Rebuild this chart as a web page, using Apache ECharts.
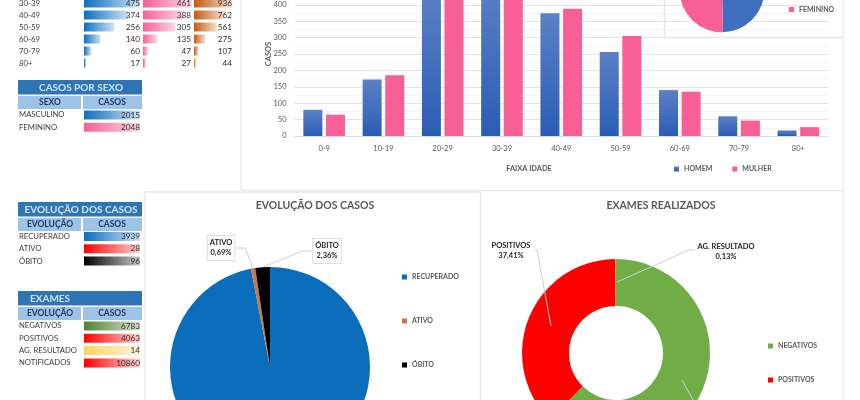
<!DOCTYPE html>
<html><head><meta charset="utf-8">
<style>html,body{margin:0;padding:0;background:#fff}#c{width:860px;height:400px}</style>
<script src="https://cdn.jsdelivr.net/npm/echarts@6/dist/echarts.min.js"></script>
</head><body><div id="c"></div>
<script>
// --- data ---
const ageGroups = ['0-9','10-19','20-29','30-39','40-49','50-59','60-69','70-79','80+'];
const men   = [80,172,441,475,374,256,140,60,17];
const women = [65,185,435,461,388,305,135,47,27];
const ageRows  = ['30-39','40-49','50-59','60-69','70-79','80+'];
const ageMen   = [475,374,256,140,60,17];
const ageWomen = [461,388,305,135,47,27];
const ageTotal = [936,762,561,275,107,44];
const sexNames  = ['MASCULINO','FEMININO'];
const sexValues = [2015,2048];
const evoNames  = ['RECUPERADO','ATIVO','ÓBITO'];
const evoValues = [3939,28,96];
const examNames  = ['NEGATIVOS','POSITIVOS','AG. RESULTADO'];
const examValues = [6783,4063,14];
const notifiedName = 'NOTIFICADOS';
const notifiedValue = 10860;

// --- styles ---
const FONT = 'Lato, "Open Sans", sans-serif';
const grad = (a,b)=>new echarts.graphic.LinearGradient(0,0,1,0,[{offset:0,color:a},{offset:1,color:b}]);
const BLUE=['#0B6FC0','#CFE2F3'],PINK=['#F85F97','#FBD8E5'],ORANGE=['#C55A11','#F7E0CF'],RED=['#FF0000','#FFD2D2'],BLACK=['#000000','#C8C8C8'],GREEN=['#4E8136','#D8E5CF'],YEL=['#FFD45E','#FFF3D6'];

const grids=[],xAxes=[],yAxes=[],series=[],graphics=[];
function text(x,y,t,o={}){graphics.push({type:'text',x,y,z:20,silent:true,style:{text:t,font:(o.bold?'bold ':'')+(o.size||8)+'px '+FONT,fill:o.fill||'#404040',textAlign:o.align||'left',textVerticalAlign:'middle'}});}
function rect(x,y,w,h,fill){graphics.push({type:'rect',silent:true,shape:{x,y,width:w,height:h},style:{fill}});}
function line(x1,y1,x2,y2,c){graphics.push({type:'line',silent:true,shape:{x1,y1,x2,y2},style:{stroke:c||'#E8E8E8',lineWidth:1.4}});}
function leader(points){graphics.push({type:'polyline',z:20,silent:true,shape:{points},style:{stroke:'#CFCFCF',lineWidth:1,fill:null}});}

// one bar cell column: rows drawn from values through its own value axis
function barColumn(x,w,yMid,rowH,values,maxV,colors){
  const i=grids.length;
  grids.push({left:x,width:w,top:yMid-rowH/2,height:rowH*values.length,outerBoundsMode:'none'});
  xAxes.push({type:'value',gridIndex:i,min:0,max:maxV,show:false});
  yAxes.push({type:'category',gridIndex:i,inverse:true,show:false,data:values.map((_,k)=>k)});
  series.push({type:'bar',xAxisIndex:i,yAxisIndex:i,barWidth:9,silent:true,data:values,itemStyle:{color:grad(colors[0],colors[1])}});
}
function tableTitle(y,title,cx,h1,h2,align){
  rect(18,y,124,14.5,'#2E75B6');
  text(cx,y+7.5,title,{size:10,bold:true,fill:'#CFE2F3',align:align||'center'});
  rect(18,y+16,63,13,'#9DC3E6');rect(83,y+16,59,13,'#9DC3E6');
  text(50,y+22.5,h1,{size:8.5,bold:true,fill:'#1F3864',align:'center'});
  text(112,y+22.5,h2,{size:8.5,bold:true,fill:'#1F3864',align:'center'});
}
function rowText(names,values,y0,rowH,xr){
  names.forEach((n,k)=>{
    text(19,y0+k*rowH,n,{size:7.7});
    text(xr,y0+k*rowH,String(values[k]),{size:8.2,fill:'#303030',align:'right'});
  });
}

// --- panel frames ---
line(241,0,241,190);line(241,190.5,843,190.5);line(843.5,0,843.5,400);
line(145,192,145,400);line(145,192,480,192);line(480.5,192,480.5,400);
line(664.5,0,664.5,37,'#E2E2E2');line(664.5,37.5,843,37.5,'#E2E2E2');

// --- age table ---
ageRows.forEach((n,k)=>text(19,3+k*12,n,{size:7.8}));
barColumn(84,56,3,12,ageMen,475,BLUE);
barColumn(143,49,3,12,ageWomen,461,PINK);
barColumn(194,38,3,12,ageTotal,936,ORANGE);
ageRows.forEach((n,k)=>{
  text(140,3+k*12,String(ageMen[k]),{size:8.2,fill:'#303030',align:'right'});
  text(191,3+k*12,String(ageWomen[k]),{size:8.2,fill:'#303030',align:'right'});
  text(232,3+k*12,String(ageTotal[k]),{size:8.2,fill:'#303030',align:'right'});
});
// --- sex table ---
tableTitle(80,'CASOS POR SEXO',81,'SEXO','CASOS');
barColumn(84,56,115,12.2,[sexValues[0]],2015,BLUE);
barColumn(84,56,127.2,12.2,[sexValues[1]],2048,PINK);
rowText(sexNames,sexValues,115,12.2,140);
// --- evolution table ---
tableTitle(202,'EVOLUÇÃO DOS CASOS',81,'EVOLUÇÃO','CASOS');
[BLUE,RED,BLACK].forEach((c,k)=>barColumn(84,56,236.5+k*12.3,12.3,[evoValues[k]],evoValues[k],c));
rowText(evoNames,evoValues,236.5,12.3,140);
// --- exams table ---
tableTitle(291,'EXAMES',30,'EVOLUÇÃO','CASOS','left');
[GREEN,RED,YEL].forEach((c,k)=>barColumn(84,56,326+k*12.3,12.3,[examValues[k]],examValues[k],c));
barColumn(84,56,326+3*12.3,12.3,[notifiedValue],notifiedValue,RED);
rowText(examNames.concat([notifiedName]),examValues.concat([notifiedValue]),326,12.3,140);

// --- main bar chart ---
const gi=grids.length;
grids.push({left:294.5,width:533.5,top:-28,height:164,outerBoundsMode:'none'});
xAxes.push({type:'category',gridIndex:gi,data:ageGroups,axisTick:{show:false},axisLine:{lineStyle:{color:'#DDDDDD'}},axisLabel:{color:'#595959',fontFamily:FONT,fontSize:7.5,margin:9}});
yAxes.push({type:'value',gridIndex:gi,min:0,max:500,interval:50,name:'CASOS',nameLocation:'middle',nameGap:22,nameMoveOverlap:false,nameTextStyle:{color:'#595959',fontFamily:FONT,fontSize:7.5,fontWeight:'bold'},
  axisLine:{show:false},axisTick:{show:false},axisLabel:{color:'#595959',fontFamily:FONT,fontSize:7.5,margin:8},
  splitLine:{lineStyle:{color:'#E3E3E3'}},minorTick:{show:false,splitNumber:2},minorSplitLine:{show:true,lineStyle:{color:'#F3F3F3'}}});
const vgrad=(a,b)=>new echarts.graphic.LinearGradient(0,0,0,1,[{offset:0,color:a},{offset:1,color:b}]);
series.push({name:'HOMEM',type:'bar',xAxisIndex:gi,yAxisIndex:gi,barWidth:19,barGap:'19%',data:men,itemStyle:{color:vgrad('#5C80C6','#2A5DB5')}});
series.push({name:'MULHER',type:'bar',xAxisIndex:gi,yAxisIndex:gi,barWidth:19,barGap:'19%',data:women,itemStyle:{color:'#F95F97'}});
text(529,169,'FAIXA IDADE',{size:7.4,bold:true,fill:'#595959',align:'center'});

// --- titles ---
text(315,205.5,'EVOLUÇÃO DOS CASOS',{size:10.5,bold:true,fill:'#595959',align:'center'});
text(661,205.5,'EXAMES REALIZADOS',{size:10.5,bold:true,fill:'#595959',align:'center'});

// --- pies ---
series.push({type:'pie',center:[722,-10],radius:[0,42.3],startAngle:90,silent:true,label:{show:false},labelLine:{show:false},
  data:[{name:sexNames[0],value:sexValues[0],itemStyle:{color:'#3F6FBF'}},{name:sexNames[1],value:sexValues[1],itemStyle:{color:'#F95F97'}}]});

const pct=p=>p.name+'\n'+p.percent.toFixed(2).replace('.',',')+'%';
const evoColors=['#0A6EBD','#C4794A','#000000'];
const evoLabelPos=[null,[221,248],[327,251]];
series.push({type:'pie',center:[270,367],radius:[0,100],startAngle:90,silent:true,
  data:evoNames.map((n,k)=>({name:n,value:evoValues[k],itemStyle:{color:evoColors[k]},label:{show:k>0},labelLine:{show:k>0}})),
  label:{formatter:pct,fontFamily:FONT,fontSize:7.5,fontWeight:'bold',color:'#262626',backgroundColor:'#fff',borderColor:'#DDDDDD',borderWidth:1,padding:[2,2],lineHeight:10,align:'center'},
  labelLine:{lineStyle:{color:'#D0D0D0',width:1},length:10,length2:10},
  labelLayout:p=>{const q=evoLabelPos[p.dataIndex];return q?{x:q[0],y:q[1],align:'center',verticalAlign:'middle'}:{};}
});
const examColors=['#70AD47','#FF0000','#ED9E3C'];
const examLabelPos=[[708,420],[511,251],[726,252]];
series.push({type:'pie',center:[616,353],radius:[47,94],startAngle:90,silent:true,
  data:examNames.map((n,k)=>({name:n,value:examValues[k],itemStyle:{color:examColors[k]}})),
  label:{formatter:pct,fontFamily:FONT,fontSize:7.5,fontWeight:'bold',color:'#262626',lineHeight:10,align:'center'},
  labelLine:{show:false},
  labelLayout:p=>{const q=examLabelPos[p.dataIndex];return {x:q[0],y:q[1],align:'center',verticalAlign:'middle'};}
});
leader([[534,250],[537,250],[551,326]]);
leader([[695,250],[689,250],[617,282]]);
leader([[682,380],[693,400]]);

const legendBase={orient:'vertical',padding:0,itemWidth:5,itemHeight:5,icon:'rect',selectedMode:false,textStyle:{color:'#595959',fontFamily:FONT,fontSize:7,fontWeight:'bold'}};
const legends=[
  Object.assign({},legendBase,{left:789,top:-10,itemGap:9,data:sexNames}),
  Object.assign({},legendBase,{left:402,top:273.5,itemGap:37,data:evoNames}),
  Object.assign({},legendBase,{left:768,top:342.5,itemGap:27,data:examNames.slice(0,2)}),
  Object.assign({},legendBase,{orient:'horizontal',left:674,top:165.5,itemGap:20,data:['HOMEM','MULHER']})
];

const chart=echarts.init(document.getElementById('c'),null,{renderer:'canvas'});
chart.setOption({animation:false,backgroundColor:'#fff',grid:grids,xAxis:xAxes,yAxis:yAxes,series,legend:legends,graphic:graphics,tooltip:{show:false}});
</script></body></html>
